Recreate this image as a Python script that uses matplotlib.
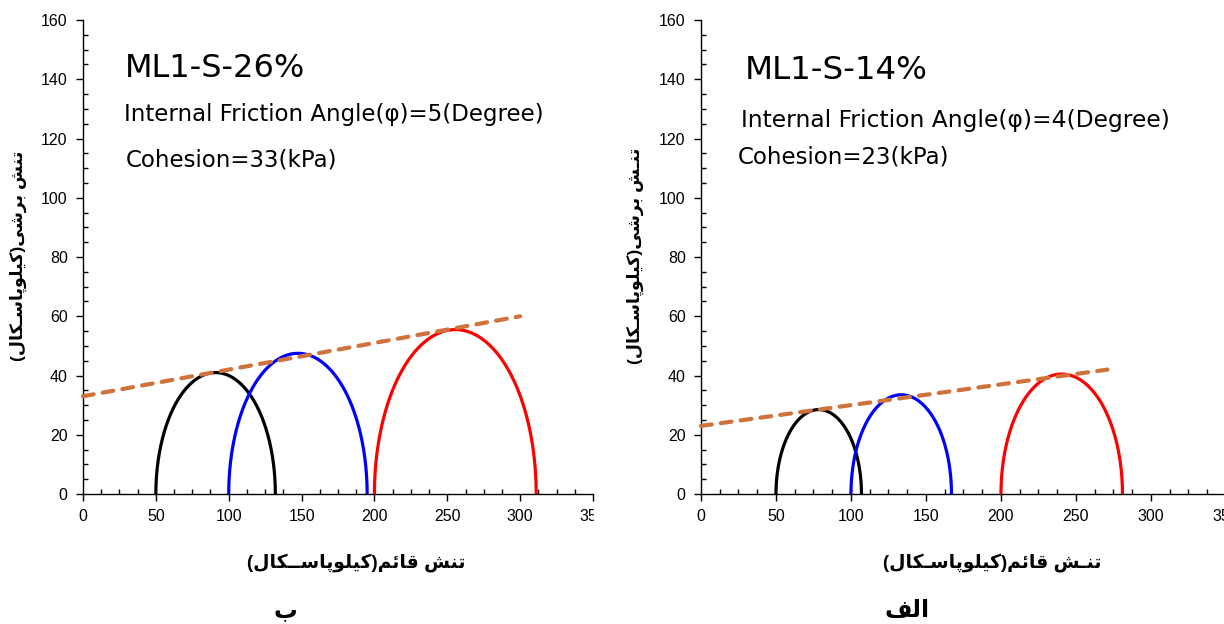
import numpy as np
import matplotlib
matplotlib.use('Agg')
import matplotlib.pyplot as plt
from matplotlib.ticker import MultipleLocator
from matplotlib.patches import Rectangle

plt.rcParams['font.family'] = ['Liberation Sans', 'DejaVu Sans']

# DATA
# panel ب : ML1-S-26%
title_26 = 'ML1-S-26%'
phi_26 = 5
c_26 = 33
sigma3_26 = [50, 100, 200]
sigma1_26 = [132, 195, 311]
env_x_26 = [0, 300]
env_y_26 = [33, 60]

# panel الف : ML1-S-14%
title_14 = 'ML1-S-14%'
phi_14 = 4
c_14 = 23
sigma3_14 = [50, 100, 200]
sigma1_14 = [107, 167, 281]
env_x_14 = [0, 271]
env_y_14 = [23, 42]

circle_colors = ['black', 'blue', 'red']

xlab_26 = 'تنش قائم(کیلوپاســکال)'
xlab_14 = 'تنـش قائم(کیلوپاسـکال)'
ylab_26 = 'تنش برشی(کیلوپاسـکال)'
ylab_14 = 'تنـش برشی(کیلوپاسـکال)'
cap_26 = 'ب'
cap_14 = 'الف'


# matplotlib has no arabic shaping -> use presentation forms, visual order
FORMS = {
    '\u0627': ('\uFE8D', '\uFE8E', None, None),
    '\u0628': ('\uFE8F', '\uFE90', '\uFE91', '\uFE92'),
    '\u067E': ('\uFB56', '\uFB57', '\uFB58', '\uFB59'),
    '\u062A': ('\uFE95', '\uFE96', '\uFE97', '\uFE98'),
    '\u0631': ('\uFEAD', '\uFEAE', None, None),
    '\u0633': ('\uFEB1', '\uFEB2', '\uFEB3', '\uFEB4'),
    '\u0634': ('\uFEB5', '\uFEB6', '\uFEB7', '\uFEB8'),
    '\u0641': ('\uFED1', '\uFED2', '\uFED3', '\uFED4'),
    '\u0642': ('\uFED5', '\uFED6', '\uFED7', '\uFED8'),
    '\u06A9': ('\uFB8E', '\uFB8F', '\uFB90', '\uFB91'),
    '\u0644': ('\uFEDD', '\uFEDE', '\uFEDF', '\uFEE0'),
    '\u0645': ('\uFEE1', '\uFEE2', '\uFEE3', '\uFEE4'),
    '\u0646': ('\uFEE5', '\uFEE6', '\uFEE7', '\uFEE8'),
    '\u0648': ('\uFEED', '\uFEEE', None, None),
    '\u06CC': ('\uFBFC', '\uFBFD', '\uFBFE', '\uFBFF'),
    '\u0626': ('\uFE89', '\uFE8A', '\uFE8B', '\uFE8C'),
    '\u0640': ('\u0640', '\u0640', '\u0640', '\u0640'),
}


def fa(s):
    s = s.replace('\u064A', '\u06CC').replace('\u0643', '\u06A9')
    out = []
    for i, ch in enumerate(s):
        if ch not in FORMS:
            out.append(ch)
            continue
        prev = s[i - 1] if i > 0 else ''
        nxt = s[i + 1] if i + 1 < len(s) else ''
        j_prev = prev in FORMS and FORMS[prev][2] is not None
        j_next = FORMS[ch][2] is not None and nxt in FORMS
        iso, fin, ini, med = FORMS[ch]
        if j_prev and j_next:
            out.append(med)
        elif j_prev:
            out.append(fin)
        elif j_next:
            out.append(ini)
        else:
            out.append(iso)
    vis = ''.join(out)[::-1]
    return vis.translate(str.maketrans('()', ')('))


def mohr(ax, s3, s1, color):
    t = np.linspace(0, np.pi, 200)
    c = (s1 + s3) / 2
    r = (s1 - s3) / 2
    ax.plot(c + r * np.cos(t), r * np.sin(t), color=color, lw=2.3,
            solid_capstyle='butt', zorder=3)


fig = plt.figure(figsize=(12.24, 6.24), dpi=100)

# axes rect + where the texts sit (data coords for the notes, figure for labels)
panels = [
    dict(left=0.0678, width=0.4167, title=title_26, phi=phi_26, coh=c_26,
         s3=sigma3_26, s1=sigma1_26, ex=env_x_26, ey=env_y_26,
         xlab=xlab_26, ylab=ylab_26, cap=cap_26,
         tpos=[(28.8, 143.8), (28.1, 128), (29.5, 112.7)], tsize=[23, 16.5, 16.5],
         xlab_x=0.291, ylab_x=0.015, ylab_y=0.59, cap_x=0.233),
    dict(left=0.5727, width=0.4289, title=title_14, phi=phi_14, coh=c_14,
         s3=sigma3_14, s1=sigma1_14, ex=env_x_14, ey=env_y_14,
         xlab=xlab_14, ylab=ylab_14, cap=cap_14,
         tpos=[(29.3, 143), (26.7, 126), (24.7, 113.7)], tsize=[23.4, 16.8, 16.5],
         xlab_x=0.811, ylab_x=0.519, ylab_y=0.59, cap_x=0.741),
]

for p in panels:
    ax = fig.add_axes([p['left'], 0.2083, p['width'], 0.7596])
    for a, b, col in zip(p['s3'], p['s1'], circle_colors):
        mohr(ax, a, b, col)
    ax.plot(p['ex'], p['ey'], color='#D0723C', lw=3, dashes=(2.6, 2.2),
            dash_capstyle='round', zorder=4, clip_on=False)

    ax.set_xlim(0, 350)
    ax.set_ylim(0, 160)
    ax.spines['top'].set_visible(False)
    ax.spines['right'].set_visible(False)
    ax.spines['left'].set_linewidth(1.0)
    ax.spines['bottom'].set_linewidth(1.0)
    ax.xaxis.set_major_locator(MultipleLocator(50))
    ax.xaxis.set_minor_locator(MultipleLocator(12.5))
    ax.yaxis.set_major_locator(MultipleLocator(20))
    ax.yaxis.set_minor_locator(MultipleLocator(5))
    ax.tick_params(which='major', direction='out', length=5, width=1,
                   labelsize=11.5, pad=6)
    ax.tick_params(which='minor', direction='in', length=3.5, width=1)

    (x1, y1), (x2, y2), (x3, y3) = p['tpos']
    s1_, s2_, s3_ = p['tsize']
    ax.text(x1, y1, p['title'], fontsize=s1_, va='center', ha='left',
            family='DejaVu Sans')
    ax.text(x2, y2, 'Internal Friction Angle(\u03c6)=%d(Degree)' % p['phi'],
            fontsize=s2_, va='center', ha='left', family='DejaVu Sans')
    ax.text(x3, y3, 'Cohesion=%d(kPa)' % p['coh'], fontsize=s3_,
            va='center', ha='left', family='DejaVu Sans')

    fig.text(p['xlab_x'], 0.098, fa(p['xlab']), fontsize=13.5,
             fontweight='bold', ha='center', va='center')
    fig.text(p['ylab_x'], p['ylab_y'], fa(p['ylab']), fontsize=12.5,
             fontweight='bold', rotation=90, ha='center', va='center')
    fig.text(p['cap_x'], 0.022, fa(p['cap']), fontsize=17, fontweight='bold',
             ha='center', va='center')

# left panel image is cropped through the "350" label
fig.add_artist(Rectangle((594 / 1224, 0.12), 18 / 1224, 0.075,
                         transform=fig.transFigure, color='white', zorder=10))

fig.savefig('out.png', dpi=100)
